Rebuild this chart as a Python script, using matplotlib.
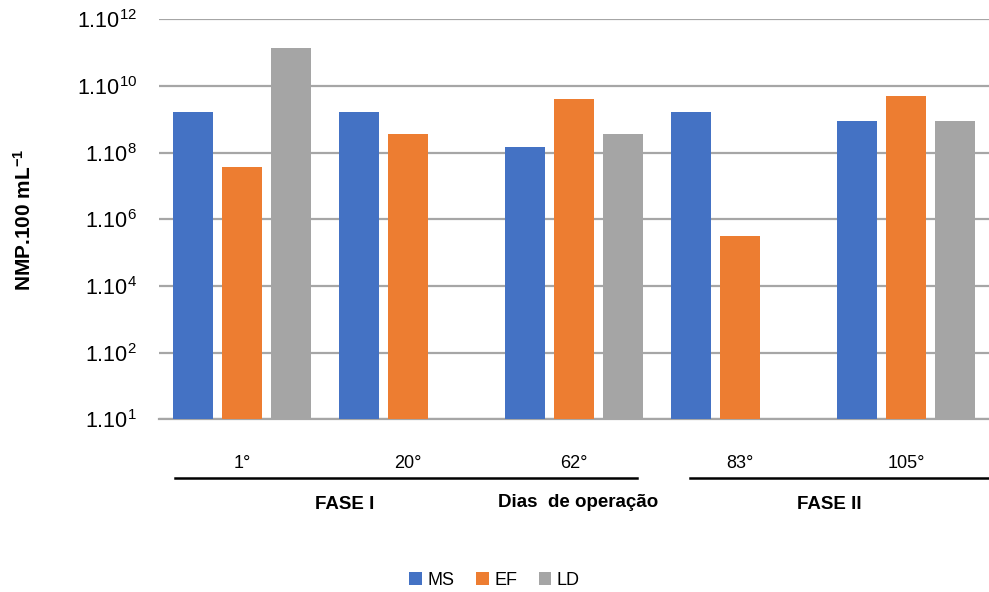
import matplotlib
matplotlib.use("Agg")
import matplotlib.pyplot as plt
import numpy as np

days = ["1°", "20°", "62°", "83°", "105°"]
series = ["MS", "EF", "LD"]
ms = [1.7e9, 1.7e9, 1.5e8, 1.7e9, 9.1e8]
ef = [3.6e7, 3.6e8, 4.2e9, 3.2e5, 4.9e9]
ld = [1.4e11, np.nan, 3.6e8, np.nan, 9.0e8]
colors = ["#4472C4", "#ED7D31", "#A5A5A5"]
ytick_vals = [1e0, 1e2, 1e4, 1e6, 1e8, 1e10, 1e12]
ytick_labels = ["1.10$^{1}$", "1.10$^{2}$", "1.10$^{4}$", "1.10$^{6}$",
                "1.10$^{8}$", "1.10$^{10}$", "1.10$^{12}$"]

plt.rcParams["font.family"] = ["Liberation Sans", "DejaVu Sans"]
plt.rcParams["mathtext.default"] = "regular"

fig = plt.figure(figsize=(9.89, 5.92), dpi=100)
ax = fig.add_axes([0.161, 0.2917, 0.839, 0.6757])

x = np.arange(len(days))
step = 0.295
width = 0.24
for i, (vals, c) in enumerate(zip([ms, ef, ld], colors)):
    ax.bar(x + (i - 1) * step, vals, width=width, bottom=1, color=c,
           label=series[i], zorder=3)

ax.set_yscale("log")
ax.set_ylim(1, 1e12)
ax.set_xlim(-0.5, len(days) - 0.5)
ax.set_yticks(ytick_vals)
ax.set_yticklabels(ytick_labels, fontsize=15.5)
ax.minorticks_off()
ax.yaxis.grid(True, color="#a6a6a6", linewidth=1.6, zorder=0)
ax.set_xticks(x)
ax.set_xticklabels(days, fontsize=13)
ax.tick_params(axis="x", length=0, pad=26)
ax.tick_params(axis="y", length=0, pad=16)
for s in ["top", "right", "left"]:
    ax.spines[s].set_visible(False)
ax.spines["bottom"].set_color("#a6a6a6")
ax.spines["bottom"].set_linewidth(1.6)

ax.set_ylabel("NMP.100 mL$^{-1}$", fontsize=15, fontweight="bold", labelpad=30)

# phase brackets
ax.plot([0.019, 0.576], [-0.147, -0.147], color="black", lw=1.8,
        transform=ax.transAxes, clip_on=False)
ax.plot([0.64, 1.0], [-0.147, -0.147], color="black", lw=1.8,
        transform=ax.transAxes, clip_on=False)
ax.text(0.224, -0.214, "FASE I", transform=ax.transAxes, ha="center",
        va="center", fontsize=13.5, fontweight="bold")
ax.text(0.505, -0.209, "Dias  de operação", transform=ax.transAxes, ha="center",
        va="center", fontsize=13.5, fontweight="bold")
ax.text(0.808, -0.214, "FASE II", transform=ax.transAxes, ha="center",
        va="center", fontsize=13.5, fontweight="bold")

fig.legend(loc="center", bbox_to_anchor=(0.5, 0.02), ncol=3, frameon=False,
           fontsize=13, handlelength=0.7, handleheight=0.7, handletextpad=0.3,
           columnspacing=1.2)

fig.savefig("out.png", dpi=100)
